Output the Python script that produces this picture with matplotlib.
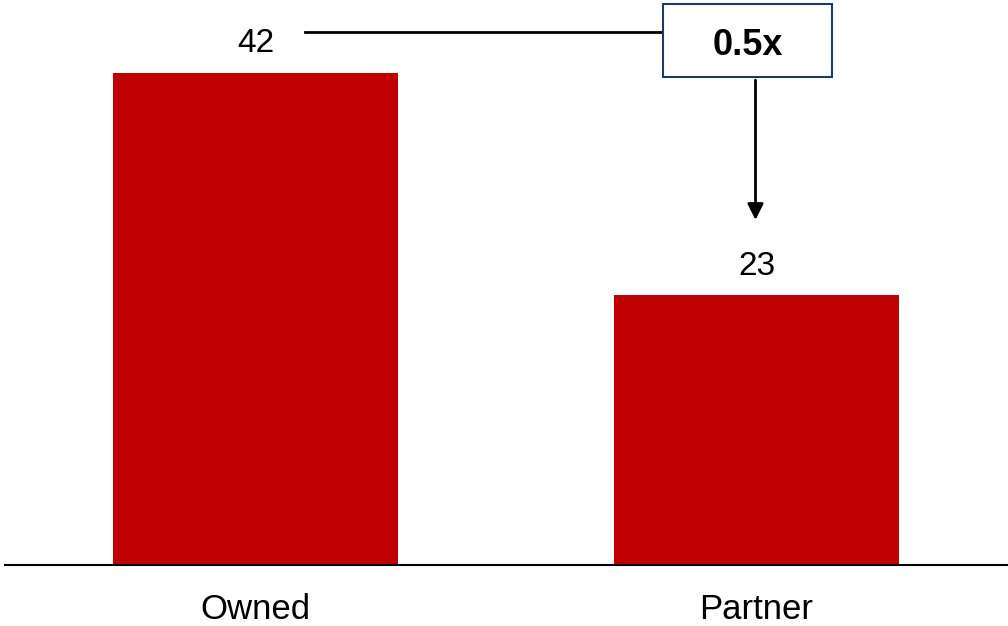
import matplotlib.pyplot as plt
from matplotlib.patches import Rectangle

plt.rcParams['font.family'] = ['Liberation Sans', 'DejaVu Sans']

categories = ["Owned", "Partner"]
values = [42, 23]
ratio_label = "0.5x"

bar_color = "#C00000"

fig = plt.figure(figsize=(10.08, 6.26), dpi=100)
ax = fig.add_axes([5 / 1008, 61 / 626, 1002 / 1008, 565 / 626])

x = range(len(categories))
bars = ax.bar(x, values, width=0.569, color=bar_color, zorder=2)

for xi, v in zip(x, values):
    ax.annotate(str(v), (xi, v), xytext=(0, 10), textcoords="offset points",
                ha="center", va="bottom", fontsize=24)

ax.set_xlim(-0.5, 1.5)
ax.set_ylim(0, 48.2)
ax.set_xticks(list(x))
ax.set_xticklabels(categories, fontsize=25)
ax.tick_params(axis="x", length=0, pad=20)
ax.set_yticks([])
for s in ["top", "right", "left"]:
    ax.spines[s].set_visible(False)
ax.spines["bottom"].set_linewidth(1.5)

# connector from first bar label to the ratio box
ax.plot([0.099, 0.813], [45.5, 45.5], color="black", lw=2, clip_on=False)
box = Rectangle((0.813, 41.6), 0.338, 6.3, facecolor="white", edgecolor="#1F3864",
                lw=1.5, clip_on=False, zorder=3)
ax.add_patch(box)
ax.text(0.982, 44.35, ratio_label, ha="center", va="center", fontsize=26,
        fontweight="bold", zorder=4)
ax.annotate("", xy=(0.998, 29.2), xytext=(0.998, 41.6),
            arrowprops=dict(arrowstyle="-|>", color="black", lw=2, mutation_scale=24))

fig.savefig("out.png", dpi=100)
